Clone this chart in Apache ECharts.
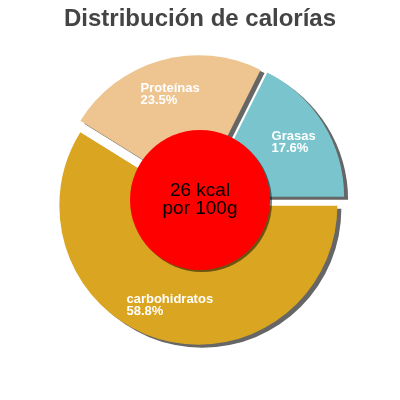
<!DOCTYPE html>
<html>
<head>
<meta charset="utf-8">
<script src="https://cdn.jsdelivr.net/npm/echarts@6/dist/echarts.min.js"></script>
<style>
html,body{margin:0;padding:0;background:#fff;}
#c{width:400px;height:400px;}
</style>
</head>
<body>
<div id="c"></div>
<script>
const titleText = 'Distribución de calorías';
const categories = ['carbohidratos', 'Proteínas', 'Grasas'];
const percents = [58.8, 23.5, 17.6];
const sliceColors = ['#DAA520', '#EEC591', '#7AC5CD'];
const centerLines = ['26 kcal', 'por 100g'];

const chart = echarts.init(document.getElementById('c'), null, {renderer: 'canvas'});
const shadow = {shadowBlur: 0, shadowOffsetX: 4, shadowOffsetY: 3, shadowColor: '#666'};
const font = 'Liberation Sans, Arial, sans-serif';
const labelTok = {fontFamily: font, fontSize: 13, fontWeight: 'bold', color: '#fff', lineHeight: 12, align: 'left'};

const common = {
  type: 'pie',
  center: ['50%', '50%'],
  startAngle: 0,
  clockwise: true,
  selectedMode: 'multiple',
  selectedOffset: 6,
  avoidLabelOverlap: false,
  emphasis: {disabled: true},
  labelLine: {show: false}
};

const option = {
  animation: false,
  title: {
    text: titleText,
    left: 'center',
    top: 2,
    textStyle: {fontFamily: font, fontSize: 24, fontWeight: 'bold', color: '#444'}
  },
  series: [
    Object.assign({}, common, {
      radius: [0, 139],
      itemStyle: Object.assign({borderWidth: 0}, shadow),
      select: {itemStyle: Object.assign({borderWidth: 0}, shadow)},
      label: {show: false},
      data: categories.map((name, i) => ({
        name: name, value: percents[i], selected: true,
        itemStyle: {color: sliceColors[i]}
      }))
    }),
    {
      type: 'pie',
      center: ['50%', '50%'],
      radius: [0, 70],
      silent: true,
      z: 5,
      emphasis: {disabled: true},
      itemStyle: {color: '#FF0000', borderWidth: 0, shadowBlur: 0, shadowOffsetX: 2, shadowOffsetY: 2, shadowColor: 'rgba(0,0,0,0.5)'},
      labelLine: {show: false},
      label: {
        show: true,
        position: 'center',
        formatter: centerLines.join('\n'),
        fontFamily: font,
        fontSize: 19,
        lineHeight: 18,
        color: '#000'
      },
      data: [{name: 'kcal', value: 1}]
    },
    Object.assign({}, common, {
      radius: [63, 139],
      silent: true,
      z: 6,
      itemStyle: {color: 'rgba(0,0,0,0)', borderWidth: 0},
      select: {itemStyle: {color: 'rgba(0,0,0,0)', borderWidth: 0}},
      label: {
        show: true,
        position: 'inside',
        align: 'center',
        formatter: '{n|{b}}\n{p|{c}%}',
        rich: {n: labelTok, p: labelTok}
      },
      data: categories.map((name, i) => ({
        name: name, value: percents[i], selected: true
      }))
    })
  ]
};
chart.setOption(option);
</script>
</body>
</html>
